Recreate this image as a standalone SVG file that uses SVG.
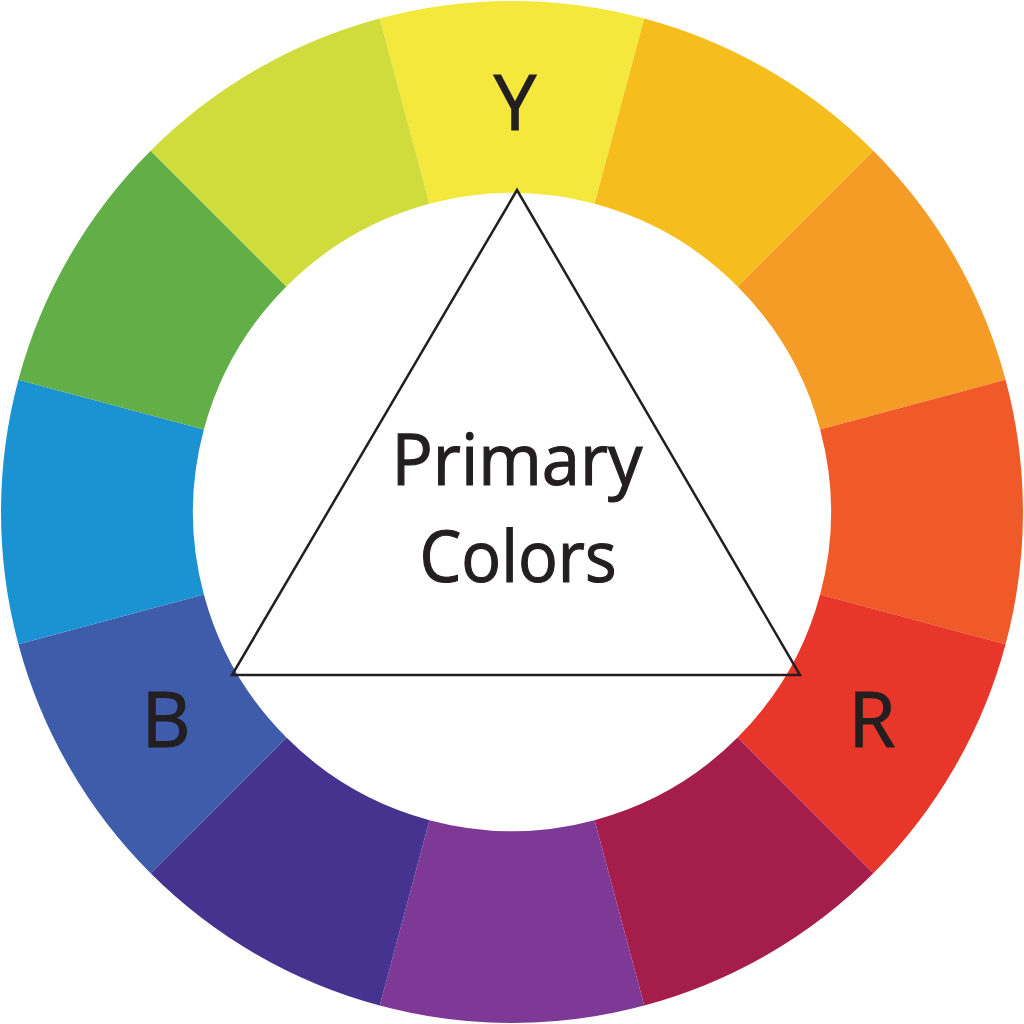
<svg xmlns="http://www.w3.org/2000/svg" width="1024" height="1024" viewBox="0 0 1024 1024">
<style>
.lbl{font-family:"Open Sans","Noto Sans","Liberation Sans",sans-serif;fill:#231F20;stroke:#231F20;stroke-width:1.2;text-anchor:middle}
.big{font-size:76px}
.ctr{font-size:72px}
</style>
<rect width="1024" height="1024" fill="#ffffff"/>
<g id="wheel">
<path id="seg-y" fill="#F3E83B" d="M379.75,18.42 A511,511 0 0 1 644.25,18.42 L594.56,203.87 A319,319 0 0 0 429.44,203.87 Z"/>
<path id="seg-yo" fill="#F6BE1D" d="M644.25,18.42 A511,511 0 0 1 873.33,150.67 L737.57,286.43 A319,319 0 0 0 594.56,203.87 Z"/>
<path id="seg-o" fill="#F49C25" d="M873.33,150.67 A511,511 0 0 1 1005.58,379.75 L820.13,429.44 A319,319 0 0 0 737.57,286.43 Z"/>
<path id="seg-ro" fill="#EF5A28" d="M1005.58,379.75 A511,511 0 0 1 1005.58,644.25 L820.13,594.56 A319,319 0 0 0 820.13,429.44 Z"/>
<path id="seg-r" fill="#E8372A" d="M1005.58,644.25 A511,511 0 0 1 873.33,873.33 L737.57,737.57 A319,319 0 0 0 820.13,594.56 Z"/>
<path id="seg-rv" fill="#A51D4B" d="M873.33,873.33 A511,511 0 0 1 644.25,1005.58 L594.56,820.13 A319,319 0 0 0 737.57,737.57 Z"/>
<path id="seg-v" fill="#7D3995" d="M644.25,1005.58 A511,511 0 0 1 379.75,1005.58 L429.44,820.13 A319,319 0 0 0 594.56,820.13 Z"/>
<path id="seg-bv" fill="#46338F" d="M379.75,1005.58 A511,511 0 0 1 150.67,873.33 L286.43,737.57 A319,319 0 0 0 429.44,820.13 Z"/>
<path id="seg-b" fill="#3E5CA9" d="M150.67,873.33 A511,511 0 0 1 18.42,644.25 L203.87,594.56 A319,319 0 0 0 286.43,737.57 Z"/>
<path id="seg-gb" fill="#1B92D1" d="M18.42,644.25 A511,511 0 0 1 18.42,379.75 L203.87,429.44 A319,319 0 0 0 203.87,594.56 Z"/>
<path id="seg-g" fill="#62AE47" d="M18.42,379.75 A511,511 0 0 1 150.67,150.67 L286.43,286.43 A319,319 0 0 0 203.87,429.44 Z"/>
<path id="seg-yg" fill="#CFDC3B" d="M150.67,150.67 A511,511 0 0 1 379.75,18.42 L429.44,203.87 A319,319 0 0 0 286.43,286.43 Z"/>
</g>
<g id="connectors">
<polygon id="triangle" points="517,190 232,675 800,675" fill="none" stroke="#231F20" stroke-width="2.5" stroke-linejoin="miter"/>
</g>
<g id="node-y"><text class="lbl big" x="515" y="130">Y</text></g>
<g id="node-b"><text class="lbl big" x="166" y="747">B</text></g>
<g id="node-r"><text class="lbl big" x="872" y="747">R</text></g>
<g id="node-center">
<text class="lbl ctr" x="517" y="485" textLength="251" lengthAdjust="spacingAndGlyphs">Primary</text>
<text class="lbl ctr" x="518" y="582" textLength="197" lengthAdjust="spacingAndGlyphs">Colors</text>
</g>
</svg>
